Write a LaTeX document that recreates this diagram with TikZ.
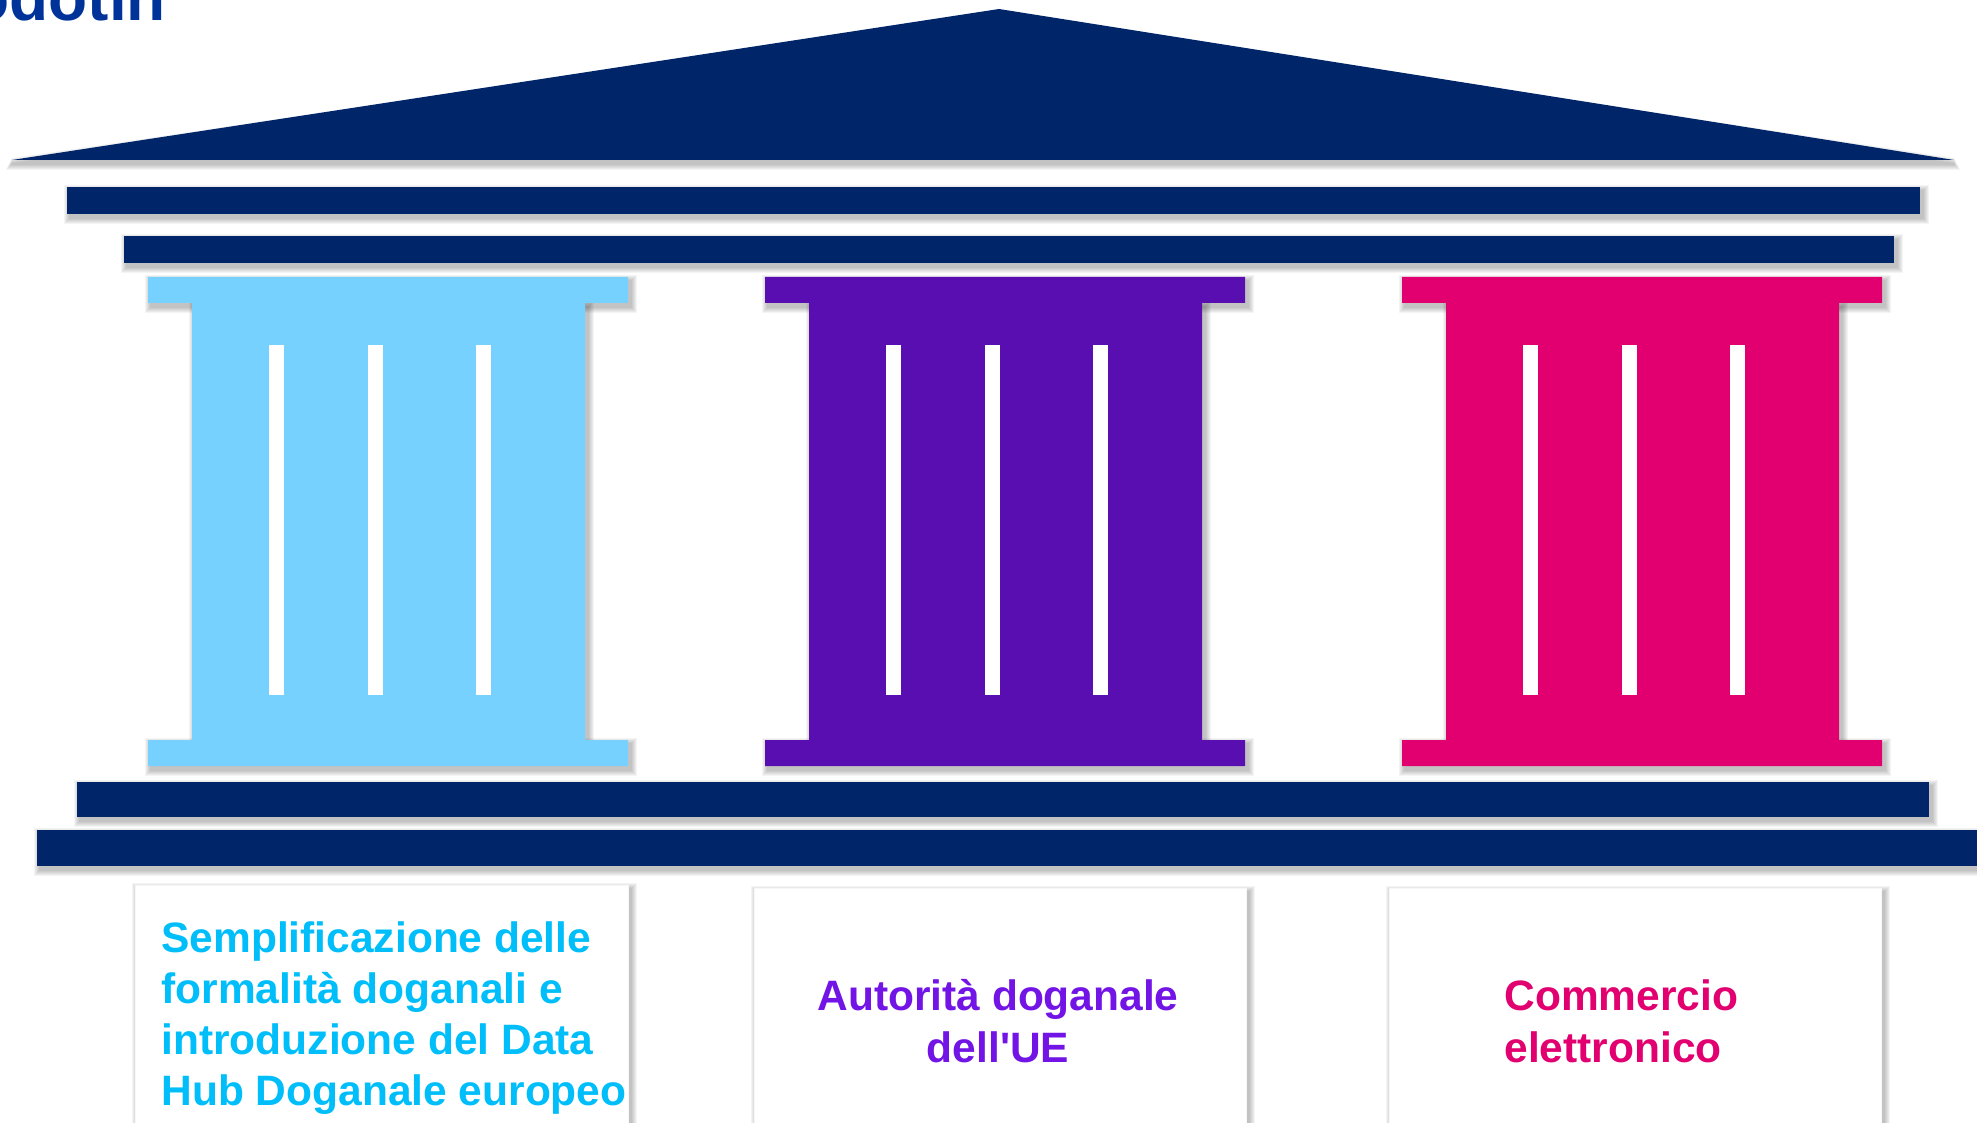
\documentclass[tikz,border=0pt]{standalone}
\usepackage{fontspec}
\setmainfont{Liberation Sans}
\definecolor{navy}{RGB}{0,38,105}
\definecolor{titleblue}{RGB}{0,51,153}
\definecolor{colblue}{RGB}{119,209,255}
\definecolor{colpurple}{RGB}{88,14,176}
\definecolor{colpink}{RGB}{226,0,112}
\definecolor{txtblue}{RGB}{0,190,250}
\definecolor{txtpurple}{RGB}{115,20,230}
\definecolor{txtpink}{RGB}{226,0,112}
\newcommand{\shrect}[4]{%
  \foreach \i in {1,...,6}{\fill[black,opacity=0.045] (#1+3-\i,#2+4-\i) rectangle (#3+3+\i,#4+4+\i);}}
\newcommand{\colshadow}[1]{%
  \shrect{#1}{277}{#1+480}{303}\shrect{#1+44}{303}{#1+437}{740}\shrect{#1}{740}{#1+480}{766}}
\newcommand{\pillar}[2]{%
  \fill[#2] (#1,277) -- (#1+480,277) -- (#1+480,303) -- (#1+437,303) -- (#1+437,740) -- (#1+480,740)
    -- (#1+480,766) -- (#1,766) -- (#1,740) -- (#1+44,740) -- (#1+44,303) -- (#1,303) -- cycle;
  \fill[white] (#1+121,345) rectangle (#1+136,695);
  \fill[white] (#1+220,345) rectangle (#1+235,695);
  \fill[white] (#1+328,345) rectangle (#1+343,695);}
\tikzset{
  lbl/.style={inner sep=0pt, font=\bfseries\fontsize{21.25}{25.5}\selectfont},
  card/.style={fill=white, draw=black!3, line width=0.5pt}
}
\begin{document}
\begin{tikzpicture}[x=0.5pt,y=-0.5pt]
\useasboundingbox (0,0) rectangle (1977,1123);
% title fragment (cut at top, as in the reference)
\node[anchor=base west, inner sep=0pt, text=titleblue, font=\bfseries\fontsize{32}{38}\selectfont] (title) at (-30,21) {odotin};
% ---------- shadows ----------
\foreach \i in {1,...,6}{\fill[black,opacity=0.045] (12,160+4-\i) -- (999,9+4) -- (1954,160+4-\i) -- (1954+\i,160+4+\i) -- (12-\i,160+4+\i) -- cycle;}
\shrect{67}{187}{1920}{214}
\shrect{124}{236}{1894}{263}
\colshadow{148}
\colshadow{765}
\colshadow{1402}
\shrect{77}{782}{1929}{817}
\shrect{37}{830}{1977}{866}
\shrect{135}{885}{628}{1140}
\shrect{754}{888}{1246}{1140}
\shrect{1389}{888}{1881}{1140}
% ---------- roof and bars ----------
\fill[navy] (12,160) -- (999,9) -- (1954,160) -- cycle;
\fill[navy] (67,187) rectangle (1920,214);
\fill[navy] (124,236) rectangle (1894,263);
% ---------- pillars ----------
\pillar{148}{colblue}
\pillar{765}{colpurple}
\pillar{1402}{colpink}
% ---------- base steps ----------
\fill[navy] (77,782) rectangle (1929,817);
\fill[navy] (37,830) rectangle (1977,866);
% ---------- cards ----------
\path[card] (135,885) rectangle (628,1140);
\path[card] (754,888) rectangle (1246,1140);
\path[card] (1389,888) rectangle (1881,1140);
% ---------- labels ----------
\node[lbl, text=txtblue, anchor=base west] (a1) at (161,952) {Semplificazione delle};
\node[lbl, text=txtblue, anchor=base west] (a2) at (161,1003) {formalità doganali e};
\node[lbl, text=txtblue, anchor=base west] (a3) at (161,1054) {introduzione del Data};
\node[lbl, text=txtblue, anchor=base west] (a4) at (161,1105) {Hub Doganale europeo};
\node[lbl, text=txtpurple, anchor=base] (b1) at (998,1010) {Autorità doganale};
\node[lbl, text=txtpurple, anchor=base] (b2) at (998,1062) {dell\textquotesingle UE};
\node[lbl, text=txtpink, anchor=base west] (c1) at (1504,1010) {Commercio};
\node[lbl, text=txtpink, anchor=base west] (c2) at (1504,1062) {elettronico};
\end{tikzpicture}
\end{document}
